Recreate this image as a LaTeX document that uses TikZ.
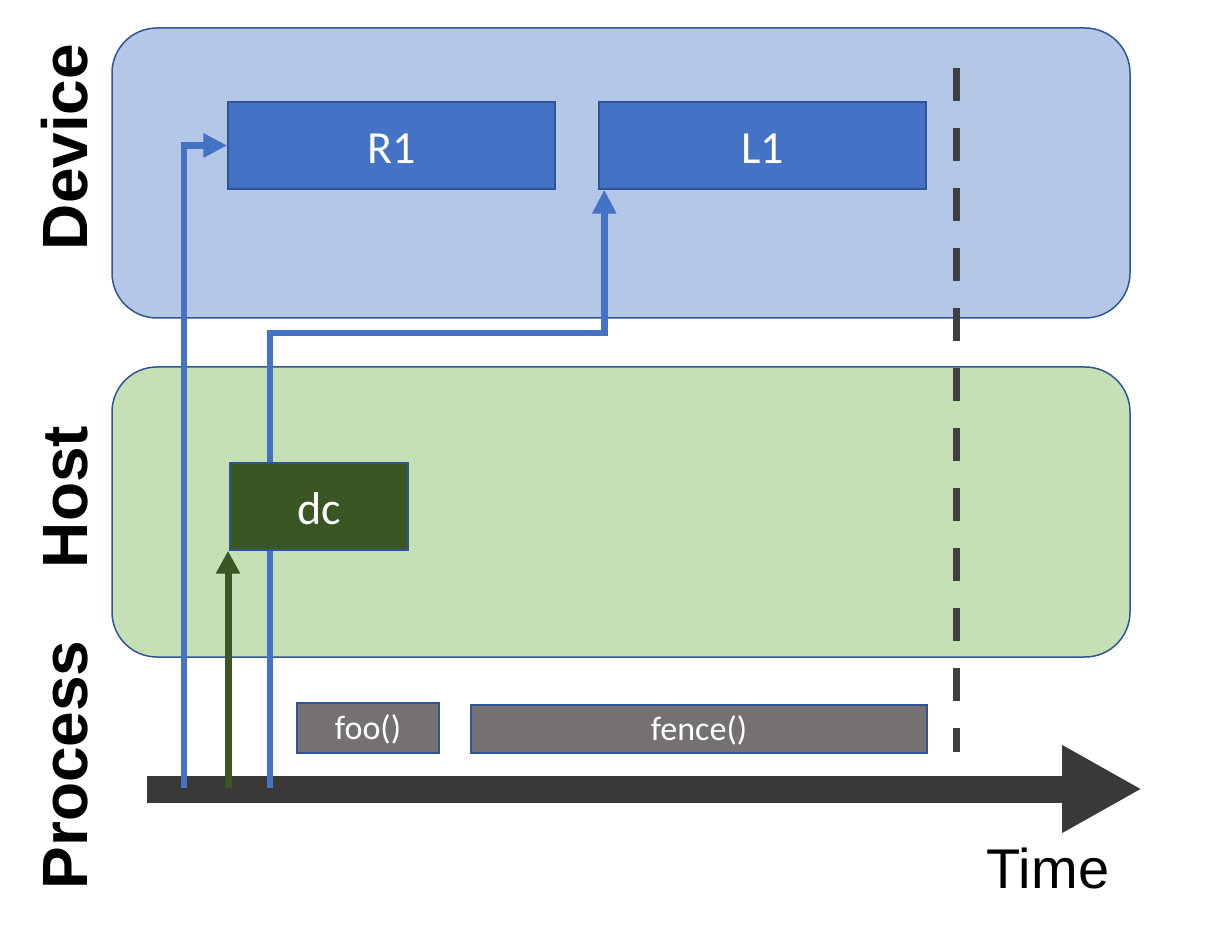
\documentclass[tikz,border=0pt]{standalone}
\usepackage{fontspec}
\setmainfont{Carlito}
\newfontfamily\axisfont{Liberation Sans}
\usepackage{tikz}
\usetikzlibrary{scopes,arrows.meta}
\definecolor{devbg}{HTML}{B4C7E7}
\definecolor{hostbg}{HTML}{C5E0B4}
\definecolor{edge}{HTML}{2F5597}
\definecolor{devbox}{HTML}{4472C4}
\definecolor{hostbox}{HTML}{3A5723}
\definecolor{procbox}{HTML}{767171}
\definecolor{timeline}{HTML}{3B3838}
\definecolor{fenceline}{HTML}{404040}
\pgfdeclarelayer{background layer}
\pgfdeclarelayer{line layer}
\pgfsetlayers{background layer,line layer,main}

\begin{document}
\begin{tikzpicture}[
    x=0.5pt,y=-0.5pt,
    region/.style={rectangle,rounded corners=22.5pt,draw=edge,line width=0.75pt,
        minimum width=509pt,minimum height=145pt,inner sep=0},
    box/.style={rectangle,draw=edge,line width=0.75pt,inner sep=0,text=white,
        text height=18.3pt,text depth=0pt,font=\fontsize{23}{27}\selectfont},
    call/.style={box,fill=procbox,text height=11.5pt,font=\fontsize{17}{20}\selectfont},
    lane/.style={rotate=90,anchor=base,font=\axisfont\bfseries\fontsize{32}{38}\selectfont},
    wire/.style={line width=3.3pt,draw=devbox,-{Triangle[length=12pt,width=11.5pt]}},
    launch/.style={line width=3.5pt,draw=hostbox,-{Triangle[length=11.5pt,width=11.5pt]}},
]
    \useasboundingbox (0,0) rectangle (1227,935);

    % lanes
    \begin{pgfonlayer}{background layer}
        \node[region,fill=devbg] (device) at (621,173) {};
        \node[region,fill=hostbg] (host) at (621,512) {};
    \end{pgfonlayer}
    \node[lane] (devlabel) at (87,147) {Device};
    \node[lane] (hostlabel) at (87,497) {Host};
    \node[lane] (proclabel) at (87,765) {Process};

    % work items
    \node[box,fill=devbox,minimum width=163.5pt,minimum height=43.5pt] (R1) at (391.5,145.5) {R1};
    \node[box,fill=devbox,minimum width=163.5pt,minimum height=43.5pt] (L1) at (762.5,145.5) {L1};
    \node[box,fill=hostbox,minimum width=89pt,minimum height=43.5pt] (dc) at (319,506.5) {dc};
    \node[call,minimum width=71pt,minimum height=25pt] (foo) at (368,728) {foo()};
    \node[call,minimum width=228pt,minimum height=24pt] (fence) at (699,729) {fence()};

    % time axis
    \coordinate (t0) at (147,789);
    \coordinate (t1) at (1142,789);
    \node[font=\axisfont\fontsize{28}{34}\selectfont,anchor=base] (time) at (1048,888) {Time};
    \coordinate (f0) at (956,68);
    \coordinate (f1) at (956,752);

    \begin{pgfonlayer}{line layer}
        \draw[timeline,line width=13.5pt,-{Triangle[length=40pt,width=41pt]}] (t0) -- (t1);
        \draw[fenceline,line width=3.5pt,dash pattern=on 16.5pt off 13.5pt] (f0) -- (f1);
        \coordinate (s1) at (184,788);
        \coordinate (s2) at (270,788);
        \coordinate (s3) at (228,788);
        {[wire]
            \draw (s1) |- (R1.west);
            \draw (s2) -- ++(0,-455) -| ([xshift=3pt]L1.south west);
        }
        \draw[launch] (s3) -- (s3 |- dc.south);
    \end{pgfonlayer}
\end{tikzpicture}
\end{document}
